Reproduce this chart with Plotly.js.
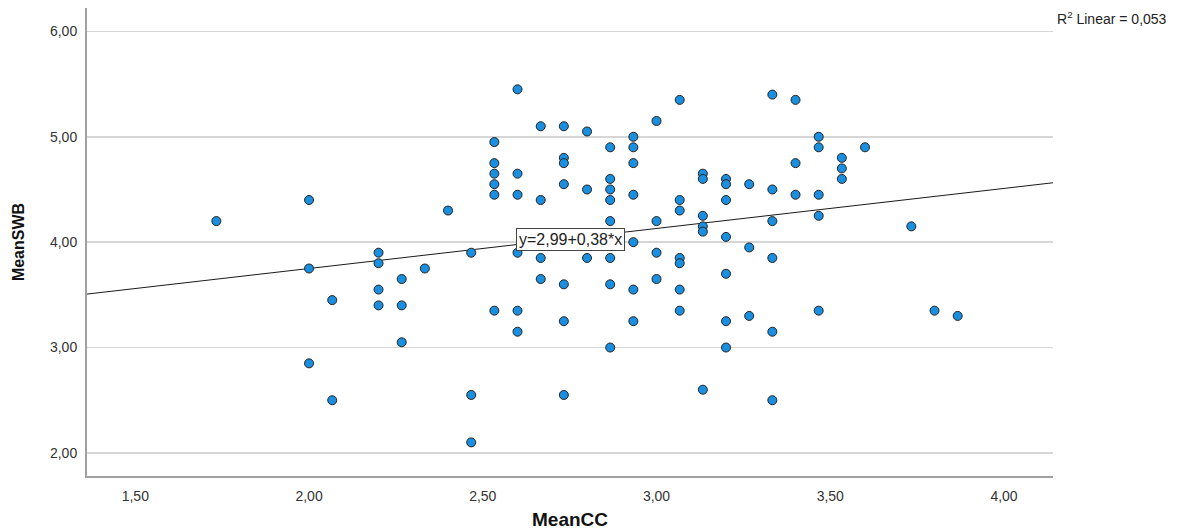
<!DOCTYPE html>
<html>
<head>
<meta charset="utf-8">
<script src="https://cdn.plot.ly/plotly-3.0.1.min.js"></script>
<style>html,body{margin:0;padding:0;background:#fff;}#chart{width:1182px;height:530px;}</style>
</head>
<body>
<div id="chart"></div>
<script>
// MeanCC (x) and MeanSWB (y) for each respondent
const meanCC = [
  1.7333,
  2.0000, 2.0000, 2.0000,
  2.0667, 2.0667,
  2.2000, 2.2000, 2.2000, 2.2000,
  2.2667, 2.2667, 2.2667,
  2.3333,
  2.4000,
  2.4667, 2.4667, 2.4667,
  2.5333, 2.5333, 2.5333, 2.5333, 2.5333, 2.5333,
  2.6000, 2.6000, 2.6000, 2.6000, 2.6000, 2.6000,
  2.6667, 2.6667, 2.6667, 2.6667,
  2.7333, 2.7333, 2.7333, 2.7333, 2.7333, 2.7333, 2.7333,
  2.8000, 2.8000, 2.8000,
  2.8667, 2.8667, 2.8667, 2.8667, 2.8667, 2.8667, 2.8667, 2.8667,
  2.9333, 2.9333, 2.9333, 2.9333, 2.9333, 2.9333, 2.9333,
  3.0000, 3.0000, 3.0000, 3.0000,
  3.0667, 3.0667, 3.0667, 3.0667, 3.0667, 3.0667, 3.0667,
  3.1333, 3.1333, 3.1333, 3.1333, 3.1333, 3.1333,
  3.2000, 3.2000, 3.2000, 3.2000, 3.2000, 3.2000, 3.2000,
  3.2667, 3.2667, 3.2667,
  3.3333, 3.3333, 3.3333, 3.3333, 3.3333, 3.3333,
  3.4000, 3.4000, 3.4000,
  3.4667, 3.4667, 3.4667, 3.4667, 3.4667,
  3.5333, 3.5333, 3.5333,
  3.6000,
  3.7333,
  3.8000,
  3.8667
];
const meanSWB = [
  4.20,
  4.40, 3.75, 2.85,
  3.45, 2.50,
  3.90, 3.80, 3.55, 3.40,
  3.65, 3.40, 3.05,
  3.75,
  4.30,
  3.90, 2.55, 2.10,
  4.95, 4.75, 4.65, 4.55, 4.45, 3.35,
  5.45, 4.65, 4.45, 3.90, 3.35, 3.15,
  5.10, 4.40, 3.85, 3.65,
  5.10, 4.80, 4.75, 4.55, 3.60, 3.25, 2.55,
  5.05, 4.50, 3.85,
  4.90, 4.60, 4.50, 4.40, 4.20, 3.85, 3.60, 3.00,
  5.00, 4.90, 4.75, 4.45, 4.00, 3.55, 3.25,
  5.15, 4.20, 3.90, 3.65,
  5.35, 4.40, 4.30, 3.85, 3.80, 3.55, 3.35,
  4.65, 4.60, 4.25, 4.15, 4.10, 2.60,
  4.60, 4.55, 4.40, 4.05, 3.70, 3.25, 3.00,
  4.55, 3.95, 3.30,
  5.40, 4.50, 4.20, 3.85, 3.15, 2.50,
  5.35, 4.75, 4.45,
  5.00, 4.90, 4.45, 4.25, 3.35,
  4.80, 4.70, 4.60,
  4.90,
  4.15,
  3.35,
  3.30
];
// Fit line reported by the chart: y = 2,99 + 0,38*x ; R² = 0,053
const fitIntercept = 2.99;
const fitSlope = 0.38;
const rSquared = "0,053";
const xRange = [1.361, 4.141];
const yRange = [1.781, 6.222];
const xTicks = [1.5, 2.0, 2.5, 3.0, 3.5, 4.0];
const yTicks = [2, 3, 4, 5, 6];

const fitX = xRange.slice();
const fitY = fitX.map(v => fitIntercept + fitSlope * v);

const traces = [
  {
    x: fitX, y: fitY, type: 'scatter', mode: 'lines',
    line: {color: '#1a1a1a', width: 1}, hoverinfo: 'skip', showlegend: false
  },
  {
    x: meanCC, y: meanSWB, type: 'scatter', mode: 'markers',
    marker: {color: '#1a8fe0', size: 9, line: {color: '#222222', width: 1}},
    showlegend: false
  }
];

const layout = {
  width: 1182, height: 530,
  margin: {l: 87, r: 129, t: 8, b: 54},
  paper_bgcolor: '#ffffff', plot_bgcolor: '#ffffff',
  separators: ',.',
  font: {family: 'Liberation Sans, Arial, sans-serif', color: '#333333', size: 13},
  showlegend: false,
  xaxis: {
    range: xRange, tickvals: xTicks, tickformat: '.2f',
    showgrid: false, zeroline: false,
    showline: true, linecolor: '#a0a0a0', linewidth: 2,
    ticks: '', ticklabelstandoff: 6,
    tickfont: {size: 14, color: '#333333'},
    title: {text: 'MeanCC', font: {size: 19, color: '#111111', family: 'Liberation Sans, Arial, sans-serif', weight: 'bold'}, standoff: 10}
  },
  yaxis: {
    range: yRange, tickvals: yTicks, tickformat: '.2f',
    showgrid: true, gridcolor: '#d6d6d6', gridwidth: 1.5,
    zeroline: false,
    showline: true, linecolor: '#a0a0a0', linewidth: 2,
    ticks: '', ticklabelstandoff: 5,
    tickfont: {size: 14, color: '#333333'},
    title: {text: 'MeanSWB', font: {size: 16, color: '#111111', family: 'Liberation Sans Narrow, Liberation Sans, Arial, sans-serif', weight: 'bold'}, standoff: 21}
  },
  annotations: [
    {
      x: 2.753, y: 4.03, xref: 'x', yref: 'y',
      text: 'y=' + String(fitIntercept).replace('.', ',') + '+' + String(fitSlope).replace('.', ',') + '*x',
      showarrow: false, font: {size: 16, color: '#222222'},
      bgcolor: '#ffffff', bordercolor: '#444444', borderwidth: 1, borderpad: 2
    },
    {
      x: 1.002, y: 0.979, xref: 'paper', yref: 'paper', xanchor: 'left', yanchor: 'middle',
      text: 'R<sup>2</sup> Linear = ' + rSquared,
      showarrow: false, font: {size: 14, color: '#222222'}
    }
  ]
};

Plotly.newPlot('chart', traces, layout, {displayModeBar: false, staticPlot: true});
</script>
</body>
</html>
